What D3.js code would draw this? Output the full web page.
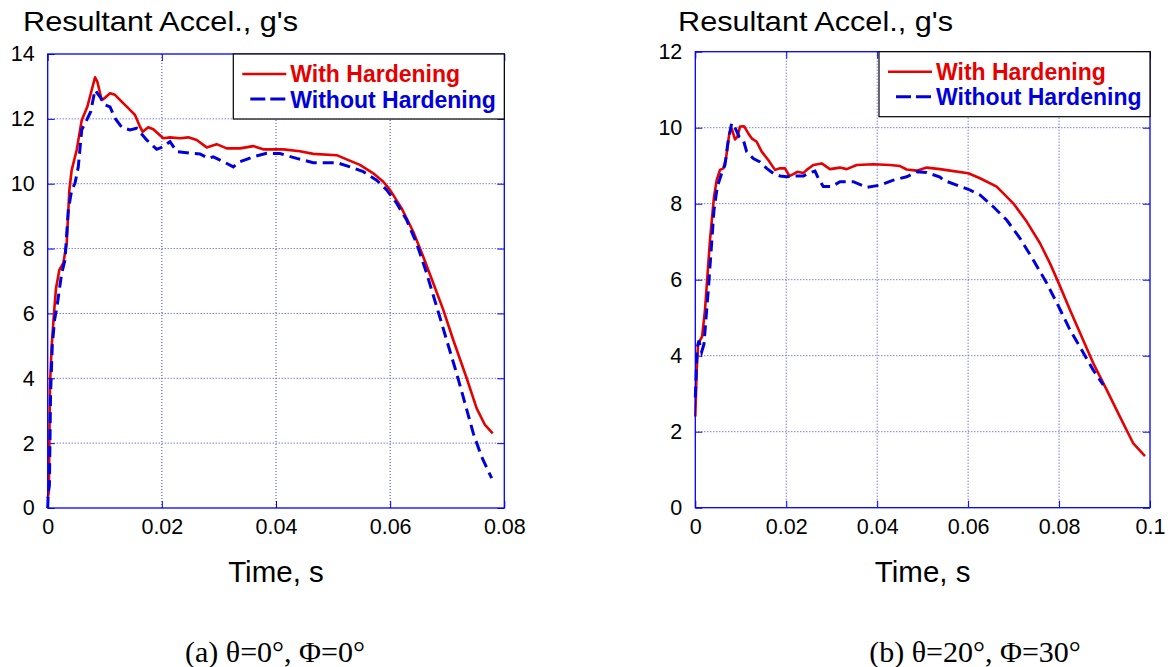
<!DOCTYPE html>
<html>
<head>
<meta charset="utf-8">
<script src="https://cdn.jsdelivr.net/npm/d3@7"></script>
<style>
  body { margin: 0; background: #fff; }
  svg { display: block; }
</style>
</head>
<body>
<svg id="fig" width="1168" height="667"></svg>
<script>
// ---- data ---------------------------------------------------------------
const seriesNames = ["With Hardening", "Without Hardening"];
const yTitle = "Resultant Accel., g's";
const xTitle = "Time, s";

const xTicksA = [0, 0.02, 0.04, 0.06, 0.08];
const xTickLabelsA = ["0", "0.02", "0.04", "0.06", "0.08"];
const yTicksA = [0, 2, 4, 6, 8, 10, 12, 14];
const xTicksB = [0, 0.02, 0.04, 0.06, 0.08, 0.1];
const xTickLabelsB = ["0", "0.02", "0.04", "0.06", "0.08", "0.1"];
const yTicksB = [0, 2, 4, 6, 8, 10, 12];

const captionA = "(a) θ=0°, Φ=0°";
const captionB = "(b) θ=20°, Φ=30°";

// [time (s), resultant acceleration (g)]
const withHardeningA = [
  [0, 0.3], [0.0002, 0.5], [0.0004, 3.8], [0.0007, 5.0], [0.0011, 6.0], [0.00145, 6.77],
  [0.00204, 7.34], [0.00273, 7.55], [0.00333, 8.16], [0.00379, 9.8], [0.0042, 10.42],
  [0.00508, 11.04], [0.00596, 11.96], [0.00694, 12.37], [0.00771, 12.89], [0.00829, 13.28],
  [0.00869, 13.15], [0.00946, 12.58], [0.0099, 12.63], [0.01092, 12.79], [0.01179, 12.74],
  [0.01296, 12.53], [0.01412, 12.33], [0.0153, 12.12], [0.01617, 11.76], [0.01664, 11.6],
  [0.01763, 11.74], [0.0185, 11.68], [0.02025, 11.4], [0.02143, 11.43], [0.02318, 11.4],
  [0.02463, 11.43], [0.02611, 11.35], [0.02786, 11.12], [0.0296, 11.22], [0.03136, 11.09],
  [0.0337, 11.09], [0.03602, 11.16], [0.03777, 11.06], [0.04128, 11.06], [0.0442, 11.0],
  [0.04654, 10.92], [0.05063, 10.88], [0.05238, 10.75], [0.05471, 10.58], [0.05704, 10.32],
  [0.0588, 10.06], [0.05997, 9.81], [0.06202, 9.24], [0.06405, 8.52], [0.0658, 7.75],
  [0.06756, 6.93], [0.06931, 6.11], [0.07106, 5.18], [0.07341, 4.0], [0.07516, 3.07],
  [0.07662, 2.56], [0.07797, 2.3]
];
const withoutHardeningA = [
  [0, 0.0], [0.0001, 0.5], [0.0003, 0.7], [0.0005, 3.5], [0.0008, 5.0], [0.0012, 5.8],
  [0.0017, 6.3], [0.00245, 7.24], [0.00303, 7.65], [0.00361, 9.19], [0.0042, 9.8],
  [0.00478, 10.01], [0.00536, 10.52], [0.00596, 11.66], [0.00683, 11.96], [0.00753, 12.22],
  [0.00829, 12.89], [0.00916, 12.68], [0.01004, 12.43], [0.01092, 12.37], [0.01179, 12.02],
  [0.01296, 11.74], [0.01442, 11.66], [0.01559, 11.71], [0.01734, 11.35], [0.0191, 11.06],
  [0.02025, 11.14], [0.02143, 11.3], [0.0226, 10.99], [0.02493, 10.94], [0.02668, 10.92],
  [0.02814, 10.78], [0.02902, 10.83], [0.03077, 10.68], [0.03252, 10.52], [0.03369, 10.68],
  [0.03602, 10.83], [0.03836, 10.94], [0.0407, 10.93], [0.04362, 10.78], [0.04654, 10.65],
  [0.05063, 10.65], [0.05296, 10.52], [0.05529, 10.37], [0.05763, 10.11], [0.05939, 9.81],
  [0.06114, 9.4], [0.06289, 8.88], [0.06464, 8.16], [0.06639, 7.24], [0.06815, 6.21],
  [0.0699, 5.18], [0.07165, 4.15], [0.07311, 3.23], [0.07457, 2.3], [0.07603, 1.58],
  [0.07779, 0.92]
];
const withHardeningB = [
  [0, 2.4], [0.0003, 3.6], [0.0006, 4.3], [0.001, 4.4], [0.0015, 4.5], [0.00213, 5.2],
  [0.0025, 5.82], [0.00323, 7.04], [0.00411, 8.18], [0.0047, 8.62], [0.00543, 8.89],
  [0.00616, 8.93], [0.00675, 9.19], [0.00748, 9.85], [0.008, 9.98], [0.00873, 9.69],
  [0.00924, 9.76], [0.00983, 10.03], [0.01071, 10.04], [0.01166, 9.85], [0.0124, 9.72],
  [0.0135, 9.63], [0.0146, 9.37], [0.01605, 9.15], [0.01753, 8.89], [0.01863, 8.93],
  [0.01973, 8.93], [0.02068, 8.73], [0.02155, 8.78], [0.02243, 8.84], [0.0238, 8.81],
  [0.0245, 8.89], [0.02595, 9.02], [0.0278, 9.06], [0.0289, 8.97], [0.02962, 8.91],
  [0.03182, 8.95], [0.0333, 8.91], [0.0355, 9.02], [0.03915, 9.04], [0.04282, 9.02],
  [0.04502, 8.99], [0.04649, 8.9], [0.04869, 8.87], [0.05089, 8.95], [0.05382, 8.91],
  [0.05601, 8.87], [0.06004, 8.8], [0.06261, 8.67], [0.06628, 8.45], [0.06993, 8.01],
  [0.07288, 7.53], [0.07581, 6.96], [0.07801, 6.43], [0.07992, 5.91], [0.08241, 5.2],
  [0.08498, 4.5], [0.08753, 3.8], [0.09048, 3.1], [0.0934, 2.39], [0.09633, 1.69],
  [0.0989, 1.36]
];
const withoutHardeningB = [
  [0, 2.9], [0.0004, 4.2], [0.0008, 4.4], [0.0014, 4.1], [0.0019, 4.3], [0.0025, 5.2],
  [0.00286, 5.73], [0.00338, 6.6], [0.00411, 7.83], [0.00484, 8.45], [0.0058, 8.8],
  [0.00653, 9.02], [0.00726, 9.68], [0.008, 10.12], [0.00873, 10.0], [0.00968, 9.76],
  [0.01056, 9.68], [0.0113, 9.37], [0.01276, 9.19], [0.01423, 9.1], [0.0157, 8.93],
  [0.01715, 8.8], [0.01863, 8.73], [0.0201, 8.71], [0.0223, 8.73], [0.0238, 8.73],
  [0.02485, 8.8], [0.02633, 8.86], [0.02705, 8.67], [0.02815, 8.45], [0.03, 8.45],
  [0.03182, 8.58], [0.03475, 8.58], [0.0377, 8.43], [0.04062, 8.49], [0.04355, 8.62],
  [0.04649, 8.71], [0.04869, 8.84], [0.05089, 8.82], [0.05382, 8.7], [0.05454, 8.62],
  [0.05749, 8.49], [0.06004, 8.38], [0.06261, 8.23], [0.06554, 7.92], [0.06848, 7.57],
  [0.07141, 7.09], [0.07433, 6.52], [0.07728, 5.91], [0.07992, 5.29], [0.08241, 4.68],
  [0.08498, 4.15], [0.08753, 3.62], [0.08973, 3.23]
];

// ---- styles -------------------------------------------------------------
const SANS = "'Liberation Sans', Arial, sans-serif";
const SERIF = "'Liberation Serif', 'Times New Roman', serif";
const FRAME = "#0000ff";
const GRID = "#3c3cff";
const RED = "#e60000";
const BLUE = "#0000dd";
const DASH = "11,6";

const svg = d3.select("#fig");

function drawPanel(p) {
  const x = d3.scaleLinear().domain(p.xDomain).range([p.left, p.right]);
  const y = d3.scaleLinear().domain(p.yDomain).range([p.bottom, p.top]);
  const g = svg.append("g");

  // dotted grid
  const gx = p.xTicks.filter(v => v > p.xDomain[0] && v < p.xDomain[1]);
  const gy = p.yTicks.filter(v => v > p.yDomain[0] && v < p.yDomain[1]);
  g.selectAll(".vg").data(gx).join("line")
    .attr("x1", d => x(d)).attr("x2", d => x(d))
    .attr("y1", p.top).attr("y2", p.bottom)
    .attr("stroke", GRID).attr("stroke-width", 1).attr("stroke-dasharray", "1,2");
  g.selectAll(".hg").data(gy).join("line")
    .attr("x1", p.left).attr("x2", p.right)
    .attr("y1", d => y(d)).attr("y2", d => y(d))
    .attr("stroke", GRID).attr("stroke-width", 1).attr("stroke-dasharray", "1,2");

  // axes with inward ticks
  const tickLen = 7;
  const ax = g.append("g").attr("transform", `translate(0,${p.bottom})`)
    .call(d3.axisBottom(x).tickValues(p.xTicks).tickSize(-tickLen).tickPadding(11)
      .tickFormat((d, i) => p.xTickLabels[i]));
  const ay = g.append("g").attr("transform", `translate(${p.left},0)`)
    .call(d3.axisLeft(y).tickValues(p.yTicks).tickSize(-tickLen).tickPadding(13)
      .tickFormat(d3.format("d")));
  const at = g.append("g").attr("transform", `translate(0,${p.top})`)
    .call(d3.axisTop(x).tickValues(p.xTicks).tickSize(-tickLen).tickFormat(""));
  const ar = g.append("g").attr("transform", `translate(${p.right},0)`)
    .call(d3.axisRight(y).tickValues(p.yTicks).tickSize(-tickLen).tickFormat(""));
  [ax, ay, at, ar].forEach(a => {
    a.select(".domain").remove();
    a.selectAll(".tick line").attr("stroke", FRAME).attr("stroke-width", 1);
    a.selectAll("text").attr("fill", "#000").style("font-family", SANS).style("font-size", "21.5px");
  });

  // curves
  const line = d3.line().x(d => x(d[0])).y(d => y(d[1]));
  g.append("path").datum(p.withData).attr("d", line)
    .attr("fill", "none").attr("stroke", RED).attr("stroke-width", 2.6)
    .attr("stroke-linejoin", "round");
  g.append("path").datum(p.withoutData).attr("d", line)
    .attr("fill", "none").attr("stroke", BLUE).attr("stroke-width", 3)
    .attr("stroke-dasharray", DASH);

  // frame
  g.append("rect").attr("x", p.left).attr("y", p.top)
    .attr("width", p.right - p.left).attr("height", p.bottom - p.top)
    .attr("fill", "none").attr("stroke", FRAME).attr("stroke-width", 1.3);

  // legend
  const lw = 271, lh = 65;
  const lx = p.right - lw, ly = p.top;
  const leg = g.append("g").attr("transform", `translate(${lx},${ly})`);
  leg.append("rect").attr("width", lw).attr("height", lh)
    .attr("fill", "#fff").attr("stroke", "#000").attr("stroke-width", 1.2);
  const rows = [
    { name: seriesNames[0], color: RED, dash: null, w: 2.6, ly: 20, ty: 28, x1: 9 },
    { name: seriesNames[1], color: BLUE, dash: "15,5", w: 3, ly: 45, ty: 53.5, x1: 17 }
  ];
  rows.forEach(r => {
    leg.append("line").attr("x1", r.x1).attr("x2", 53).attr("y1", r.ly).attr("y2", r.ly)
      .attr("stroke", r.color).attr("stroke-width", r.w)
      .attr("stroke-dasharray", r.dash);
    leg.append("text").attr("x", 57).attr("y", r.ty).text(r.name)
      .attr("fill", r.color).style("font-family", SANS).style("font-weight", "bold")
      .style("font-size", "23px");
  });

  // titles
  g.append("text").attr("x", p.titleX).attr("y", 30.5).text(yTitle)
    .style("font-family", SANS).style("font-size", "28.5px")
    .attr("textLength", 275).attr("lengthAdjust", "spacingAndGlyphs");
  g.append("text").attr("x", (p.left + p.right) / 2).attr("y", 582).text(xTitle)
    .attr("text-anchor", "middle")
    .style("font-family", SANS).style("font-size", "29.5px");
  g.append("text").attr("x", p.captionX).attr("y", 662).text(p.caption)
    .attr("text-anchor", "middle")
    .style("font-family", SERIF).style("font-size", "30px");
}

drawPanel({
  left: 47.7, right: 504.3, top: 54, bottom: 508,
  xDomain: [0, 0.08], yDomain: [0, 14],
  xTicks: xTicksA, xTickLabels: xTickLabelsA, yTicks: yTicksA,
  withData: withHardeningA, withoutData: withoutHardeningA,
  titleX: 23, caption: captionA, captionX: 275
});
drawPanel({
  left: 695.3, right: 1150, top: 51.7, bottom: 507.7,
  xDomain: [0, 0.1], yDomain: [0, 12],
  xTicks: xTicksB, xTickLabels: xTickLabelsB, yTicks: yTicksB,
  withData: withHardeningB, withoutData: withoutHardeningB,
  titleX: 678, caption: captionB, captionX: 975
});
</script>
</body>
</html>
